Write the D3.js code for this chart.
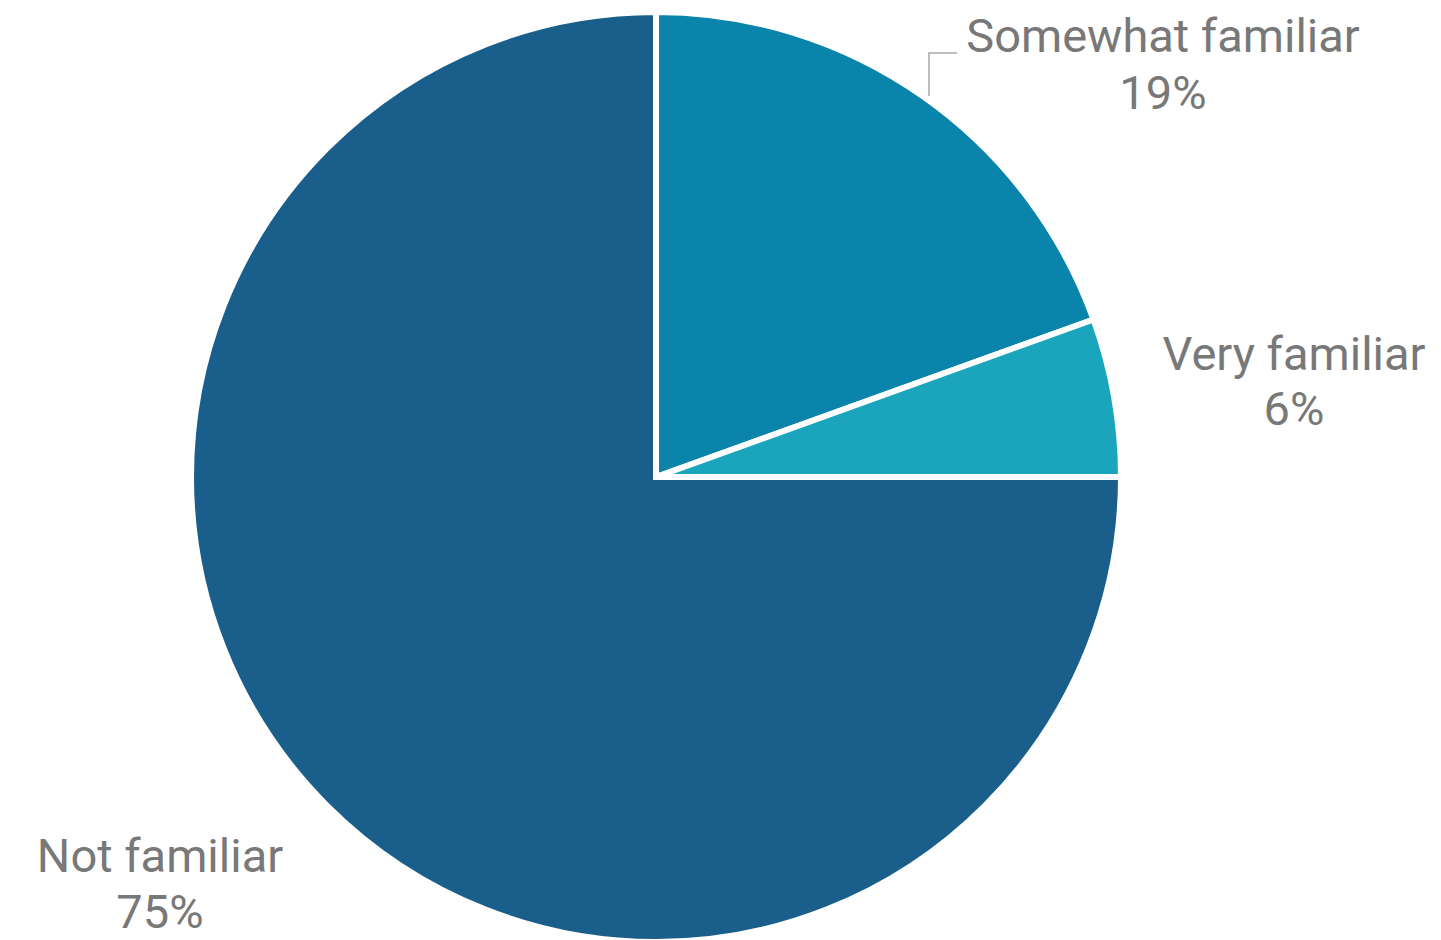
<!DOCTYPE html>
<html>
<head>
<meta charset="utf-8">
<script src="https://cdn.jsdelivr.net/npm/d3@7"></script>
<style>
html,body{margin:0;padding:0;background:#fff;}
svg{display:block;}
</style>
</head>
<body>
<svg id="chart" width="1441" height="940"></svg>
<script>
const categories = ["Somewhat familiar", "Very familiar", "Not familiar"];
const values = [19.5, 5.5, 75];
const pctLabels = ["19%", "6%", "75%"];
const colors = ["#0a84ab", "#1ba5bd", "#1a5f8c"];

const svg = d3.select("#chart");
const cx = 656, cy = 477, r = 465;
const g = svg.append("g").attr("transform", `translate(${cx},${cy})`);

const pie = d3.pie().sort(null).value(d => d.v);
const data = categories.map((c, i) => ({c, v: values[i], p: pctLabels[i], col: colors[i]}));
const arcs = pie(data);
const arc = d3.arc().innerRadius(0).outerRadius(r);

g.selectAll("path").data(arcs).enter().append("path")
  .attr("d", arc)
  .attr("fill", d => d.data.col)
  .attr("stroke", "#fff")
  .attr("stroke-width", 6)
  .attr("stroke-linejoin", "miter");

const labelPos = [
  {x: 1163, y: 52, dy: 57},
  {x: 1294, y: 370, dy: 55},
  {x: 160, y: 872, dy: 56}
];
const fontSize = 47;
arcs.forEach((a, i) => {
  const t = svg.append("text")
    .attr("x", labelPos[i].x).attr("y", labelPos[i].y)
    .attr("text-anchor", "middle")
    .attr("font-family", "Roboto, sans-serif")
    .attr("font-size", fontSize)
    .attr("fill", "#787878");
  t.append("tspan").attr("x", labelPos[i].x).text(a.data.c);
  t.append("tspan").attr("x", labelPos[i].x).attr("dy", labelPos[i].dy).text(a.data.p);
});

svg.append("path")
  .attr("d", `M929,96 L929,53 L957,53`)
  .attr("fill", "none")
  .attr("stroke", "#bdbdbd")
  .attr("stroke-width", 2);
</script>
</body>
</html>
